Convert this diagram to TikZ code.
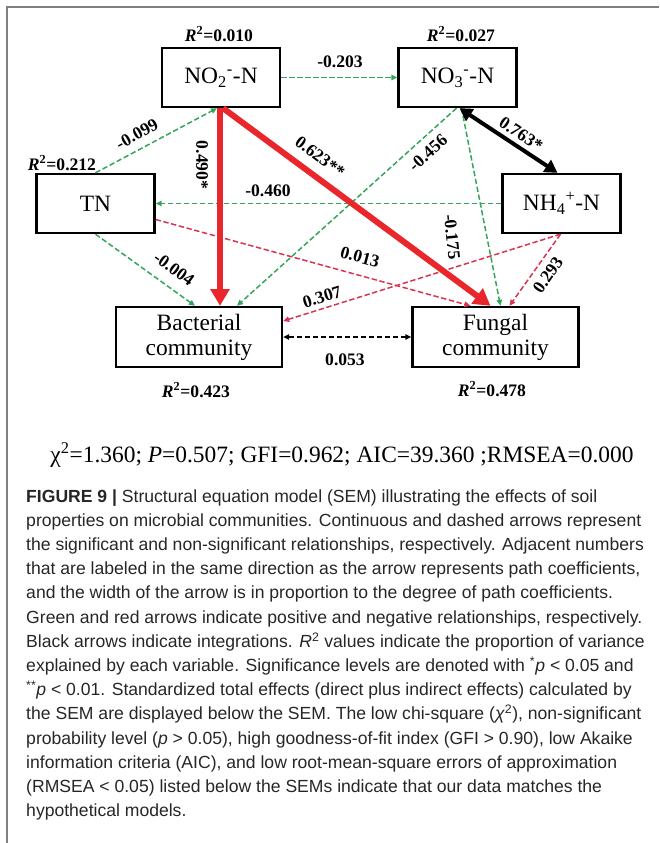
\documentclass[tikz,border=0pt]{standalone}
\usepackage{fontspec}
\setmainfont{Liberation Serif}
\newfontfamily\capfont{Liberation Sans}
\usepackage{tikz}
\usetikzlibrary{arrows.meta,calc}
\definecolor{SemGreen}{HTML}{33A65C}
\definecolor{SemRed}{HTML}{E8262B}
\definecolor{SemPink}{HTML}{D9334F}
\definecolor{FrameGray}{HTML}{808080}

\begin{document}
\begin{tikzpicture}[x=0.3mm, y=-0.3mm,
  varbox/.style={draw, line width=0.7mm, minimum width=35.4mm, minimum height=17.7mm, inner sep=0pt, align=center, font=\fontsize{20}{21.5}\selectfont},
  commbox/.style={varbox, minimum width=49.8mm, minimum height=18mm},
  coef/.style={inner sep=0pt, font=\fontsize{15}{16}\selectfont\bfseries},
  greenpath/.style={SemGreen, line width=0.45mm, dash pattern=on 1.6mm off 0.8mm, -{Triangle[length=1.8mm,width=1.6mm]}},
  redpath/.style={SemPink, line width=0.45mm, dash pattern=on 1.6mm off 0.8mm, -{Triangle[length=1.8mm,width=1.6mm]}},
  blackpath/.style={black, line width=0.45mm, dash pattern=on 1.6mm off 0.8mm, {Triangle[length=1.8mm,width=1.6mm]}-{Triangle[length=1.8mm,width=1.6mm]}},
  redbold/.style={SemRed, line width=1.8mm, -{Triangle[length=5mm,width=5.5mm]}},
  blackbold/.style={black, line width=1.2mm, {Triangle[length=3.8mm,width=4.2mm]}-{Triangle[length=3.8mm,width=4.2mm]}},
  captext/.style={anchor=base west, inner sep=0pt, text=black!85, font=\capfont\fontsize{15}{17}\selectfont}]
\useasboundingbox (0,0) rectangle (659,843);
\draw[FrameGray, line width=0.45mm] (659,7) -- (7,7) -- (7,843);

% variables
\node[varbox] (no2) at (221,77.5) {NO\textsubscript{2}\textsuperscript{-}-N};
\node[varbox] (no3) at (457.5,77.5) {NO\textsubscript{3}\textsuperscript{-}-N};
\node[varbox] (tn) at (95.5,203.5) {TN};
\node[varbox] (nh4) at (561.5,203.5) {NH\textsubscript{4}\textsuperscript{+}-N};
\node[commbox] (bac) at (199,337) {Bacterial\\community};
\node[commbox] (fun) at (495.5,337) {Fungal\\community};

% R2 values
\node[coef] (r2no2) at (219,34) {\textit{R}\textsuperscript{2}=0.010};
\node[coef] (r2no3) at (461,34) {\textit{R}\textsuperscript{2}=0.027};
\node[coef] (r2tn) at (62,163) {\textit{R}\textsuperscript{2}=0.212};
\node[coef] (r2bac) at (196,390) {\textit{R}\textsuperscript{2}=0.423};
\node[coef] (r2fun) at (492,389) {\textit{R}\textsuperscript{2}=0.478};

% dashed paths
\draw[greenpath] (no2.east) -- (no3.west);
\draw[greenpath] (tn.north) -- ($(no2.south)+(-4,0)$);
\draw[greenpath] (nh4.west) -- (tn.east);
\draw[greenpath] ($(no3.south)+(-1,0)$) -- ($(bac.north)+(38,0)$);
\draw[greenpath] ($(no3.south)+(4,0)$) -- ($(fun.north)+(5,0)$);
\draw[greenpath] (tn.south) -- ($(bac.north)+(-4,0)$);
\draw[redpath] ($(tn.east)+(0,16)$) -- ($(fun.north)+(-25,0)$);
\draw[redpath] ($(nh4.south)+(-1,0)$) -- ($(bac.east)+(0,-16)$);
\draw[redpath] ($(nh4.south)+(-1,0)$) -- ($(fun.north)+(14,0)$);
\draw[blackpath] (bac.east) -- (fun.west);

% significant paths
\draw[redbold] ($(no2.south)+(-1,0)$) -- ($(bac.north)+(21,0)$);
\draw[redbold] ($(no2.south)+(2,0)$) -- ($(fun.north)+(-5,0)$);
\draw[blackbold] ($(no3.south)+(2,0)$) -- ($(nh4.north)+(-4,0)$);

% coefficients
\node[coef] (c203) at (340,62) {-0.203};
\node[coef, rotate=29] (c099) at (137,134) {-0.099};
\node[coef] (c460) at (268,191) {-0.460};
\node[coef, rotate=-90] (c490) at (202,165) {0.490*};
\node[coef, rotate=-37] (c623) at (320,157) {0.623**};
\node[coef, rotate=-34] (c763) at (521,134) {0.763*};
\node[coef, rotate=42] (c456) at (428,153) {-0.456};
\node[coef, rotate=-84] (c175) at (452,237) {-0.175};
\node[coef, rotate=-36] (c004) at (174,269) {-0.004};
\node[coef, rotate=-15] (c013) at (360,257) {0.013};
\node[coef, rotate=17] (c307) at (322,297) {0.307};
\node[coef, rotate=55] (c293) at (548,275) {0.293};
\node[coef] (c053) at (345,360) {0.053};

% fit indices
\node[anchor=base, inner sep=0pt, font=\fontsize{20}{24}\selectfont] (fit) at (342,462)
  {χ\textsuperscript{2}=1.360; \textit{P}=0.507; GFI=0.962; AIC=39.360 ;RMSEA=0.000};

% caption
\foreach \i/\txt in {
  0/{\textbf{FIGURE 9 |} Structural equation model (SEM) illustrating the effects of soil},
  1/{properties on microbial communities. Continuous and dashed arrows represent},
  2/{the significant and non-significant relationships, respectively. Adjacent numbers},
  3/{that are labeled in the same direction as the arrow represents path coefficients,},
  4/{and the width of the arrow is in proportion to the degree of path coefficients.},
  5/{Green and red arrows indicate positive and negative relationships, respectively.},
  6/{Black arrows indicate integrations. \textit{R}\textsuperscript{2} values indicate the proportion of variance},
  7/{explained by each variable. Significance levels are denoted with \textsuperscript{*}\textit{p} < 0.05 and},
  8/{\textsuperscript{**}\textit{p} < 0.01. Standardized total effects (direct plus indirect effects) calculated by},
  9/{the SEM are displayed below the SEM. The low chi-square (\textit{χ}\textsuperscript{2}), non-significant},
  10/{probability level (\textit{p} > 0.05), high goodness-of-fit index (GFI > 0.90), low Akaike},
  11/{information criteria (AIC), and low root-mean-square errors of approximation},
  12/{(RMSEA < 0.05) listed below the SEMs indicate that our data matches the},
  13/{hypothetical models.}}
  \node[captext] (cap\i) at (26,{502+\i*24.2}) {\txt};
\end{tikzpicture}
\end{document}
